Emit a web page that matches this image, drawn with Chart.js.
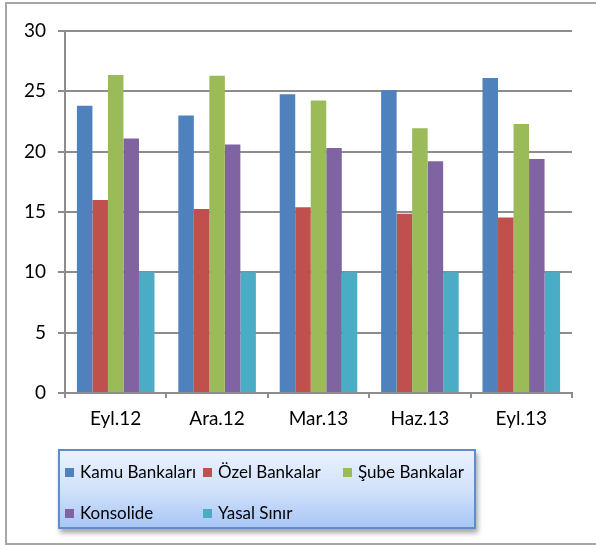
<!DOCTYPE html>
<html>
<head>
<meta charset="utf-8">
<script src="https://cdn.jsdelivr.net/npm/chart.js@4"></script>
<style>
  html, body { margin: 0; padding: 0; background: #fff; }
  body { width: 596px; height: 545px; position: relative; overflow: hidden; font-family: Lato, "Open Sans", sans-serif; }
  #frame { position: absolute; left: 5px; top: 2px; width: 600px; height: 539px; border: 2px solid #a6a6a6; }
  #wrap { position: absolute; left: 0; top: 0; width: 596px; height: 545px; }
  #legend {
    position: absolute; left: 58px; top: 449px; width: 414px; height: 76px;
    border: 2px solid #5f8ccb;
    background: linear-gradient(to bottom, #eaf1fd 0%, #d2e2fb 50%, #a9c6f7 100%);
    box-shadow: 2px 4px 5px rgba(0,0,0,0.35);
  }
  #legend .item { position: absolute; font-size: 17px; color: #000; white-space: nowrap; line-height: 20px; }
  #legend .sw { display: inline-block; width: 9px; height: 9px; margin-right: 6px; vertical-align: 1px; }
</style>
</head>
<body>
<div id="frame"></div>
<div id="wrap"><canvas id="bankChart" width="596" height="545"></canvas></div>
<div id="legend"></div>
<script>
// Dönemler ve seriler
const donemler = ['Eyl.12', 'Ara.12', 'Mar.13', 'Haz.13', 'Eyl.13'];
const seriAdlari = ['Kamu Bankaları', 'Özel Bankalar', 'Şube Bankalar', 'Konsolide', 'Yasal Sınır'];
const kamuBankalari = [23.8, 23.0, 24.75, 25.1, 26.1];
const ozelBankalar = [16.0, 15.25, 15.4, 14.85, 14.55];
const subeBankalar = [26.35, 26.3, 24.25, 21.95, 22.3];
const konsolide = [21.1, 20.6, 20.3, 19.2, 19.4];
const yasalSinir = [10, 10, 10, 10, 10];
const renkler = ['#4f81bd', '#c0504d', '#9bbb59', '#8064a2', '#4bacc6'];

const seriler = [kamuBankalari, ozelBankalar, subeBankalar, konsolide, yasalSinir];

const ctx = document.getElementById('bankChart').getContext('2d');
const bankChart = new Chart(ctx, {
    type: 'bar',
    data: {
        labels: donemler,
        datasets: seriler.map(function(veri, i) {
            return {
                label: seriAdlari[i],
                data: veri,
                backgroundColor: renkler[i],
                borderWidth: 0,
                barPercentage: 1.0,
                categoryPercentage: 0.765
            };
        })
    },
    options: {
        responsive: false,
        animation: false,
        layout: { padding: { left: 0, top: 31, right: 24, bottom: 0 } },
        plugins: { legend: { display: false }, tooltip: { enabled: false } },
        scales: {
            x: {
                afterFit: function(scale) { scale.height = 152; },
                grid: { drawOnChartArea: false, drawTicks: true, tickLength: 5, color: '#8c8c8c', lineWidth: 2 },
                border: { color: '#8c8c8c', width: 2 },
                ticks: { color: '#000', padding: 9, font: { family: 'Lato', size: 19 } }
            },
            y: {
                min: 0,
                max: 30,
                afterFit: function(scale) { scale.width = 65; },
                grid: { color: '#8c8c8c', lineWidth: 2, tickLength: 7 },
                border: { color: '#8c8c8c', width: 2 },
                ticks: { stepSize: 5, color: '#000', padding: 12, font: { family: 'Lato', size: 19 } }
            }
        }
    }
});

// Lejant: iki satır, üç sütun
const legendEl = document.getElementById('legend');
const sutunX = [5, 143, 283];
const satirY = [11, 52];
seriAdlari.forEach(function(ad, i) {
    const item = document.createElement('div');
    item.className = 'item';
    item.style.left = sutunX[i % 3] + 'px';
    item.style.top = satirY[Math.floor(i / 3)] + 'px';
    const sw = document.createElement('span');
    sw.className = 'sw';
    sw.style.background = renkler[i];
    item.appendChild(sw);
    item.appendChild(document.createTextNode(ad));
    legendEl.appendChild(item);
});
</script>
</body>
</html>
